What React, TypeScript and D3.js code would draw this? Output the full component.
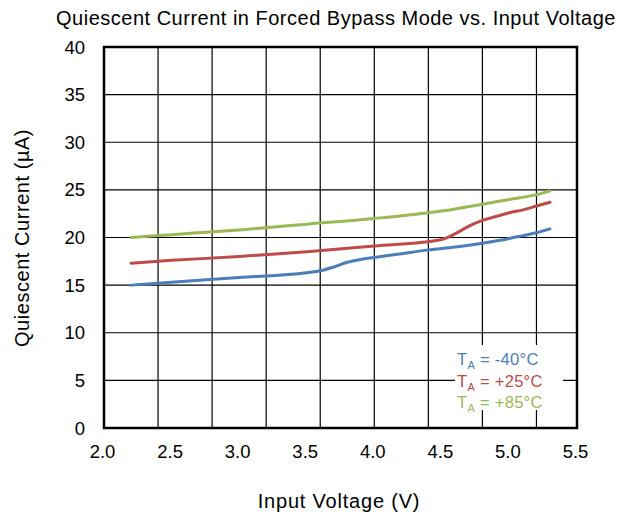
import React from "react";
import * as d3 from "d3";

// Input voltage (V) sample points per temperature
const voltsCold = [2.2, 2.5, 3.0, 3.5, 3.6, 3.7, 3.8, 3.9, 4.0, 4.2, 4.4, 4.6, 4.8, 5.0, 5.1, 5.2, 5.3];
const currentCold = [15.0, 15.3, 15.8, 16.3, 16.5, 16.9, 17.4, 17.7, 17.9, 18.3, 18.7, 19.0, 19.4, 19.9, 20.2, 20.5, 20.9];

const voltsRoom = [2.2, 2.5, 3.0, 3.5, 4.0, 4.5, 4.6, 4.7, 4.8, 4.9, 5.0, 5.1, 5.2, 5.3];
const currentRoom = [17.3, 17.6, 18.0, 18.5, 19.1, 19.8, 20.4, 21.2, 21.8, 22.2, 22.6, 22.9, 23.3, 23.7];

const voltsHot = [2.2, 2.5, 3.0, 3.5, 4.0, 4.4, 4.6, 4.8, 5.0, 5.2, 5.3];
const currentHot = [20.0, 20.3, 20.8, 21.4, 22.0, 22.6, 23.0, 23.5, 24.0, 24.5, 24.9];

const xTicks = [2.0, 2.5, 3.0, 3.5, 4.0, 4.5, 5.0, 5.5];
const xGrid = [2.4, 2.8, 3.2, 3.6, 4.0, 4.4, 4.8, 5.2];
const yTicks = [0, 5, 10, 15, 20, 25, 30, 35, 40];

const seriesNames = ["-40°C", "+25°C", "+85°C"];
const seriesColors = ["#4A7EBB", "#BE4B48", "#98B954"];

const W = 621;
const H = 512;
const FONT = "'Liberation Sans', Arial, sans-serif";

export default function App() {
  const x = d3.scaleLinear().domain([2.0, 5.5]).range([104, 577]);
  const y = d3.scaleLinear().domain([0, 40]).range([428, 47]);

  const series = [
    { v: voltsCold, c: currentCold },
    { v: voltsRoom, c: currentRoom },
    { v: voltsHot, c: currentHot },
  ];

  const line = d3
    .line<[number, number]>()
    .x((d) => x(d[0]))
    .y((d) => y(d[1]))
    .curve(d3.curveMonotoneX);

  const legendX = 457;
  const legendY = 365;
  const legendStep = 21.5;

  return (
    <svg width={W} height={H} style={{ position: "absolute", left: 0, top: 0, background: "#fff" }} fontFamily={FONT}>
      <rect x={0} y={0} width={W} height={H} fill="#fff" />
      <text x={336} y={25} fontSize={20} letterSpacing={0.5} textAnchor="middle" fill="#000">
        Quiescent Current in Forced Bypass Mode vs. Input Voltage
      </text>

      {/* grid */}
      {yTicks.slice(1, -1).map((t) => (
        <line key={"gy" + t} x1={x(2.0)} x2={x(5.5)} y1={y(t)} y2={y(t)} stroke="#000" strokeWidth={1.2} />
      ))}
      {xGrid.map((t) => (
        <line key={"gx" + t} x1={x(t)} x2={x(t)} y1={y(0)} y2={y(40)} stroke="#000" strokeWidth={1.2} />
      ))}

      {/* data */}
      {series.map((s, i) => (
        <path
          key={"s" + i}
          d={line(s.v.map((v, j) => [v, s.c[j]] as [number, number])) || ""}
          fill="none"
          stroke={seriesColors[i]}
          strokeWidth={3}
          strokeLinejoin="round"
          strokeLinecap="round"
        />
      ))}

      {/* legend */}
      <rect x={455} y={345} width={108} height={65} fill="#fff" />
      {seriesNames.map((n, i) => (
        <text key={"lg" + i} x={legendX} y={legendY + i * legendStep} fontSize={16.5} letterSpacing={0.3} fill={seriesColors[i]}>
          T<tspan fontSize={11} dy={4}>A</tspan>
          <tspan dy={-4}>{" = " + n}</tspan>
        </text>
      ))}

      {/* frame */}
      <rect x={x(2.0)} y={y(40)} width={x(5.5) - x(2.0)} height={y(0) - y(40)} fill="none" stroke="#000" strokeWidth={2.5} />

      {/* tick labels */}
      {xTicks.map((t) => (
        <text key={"xt" + t} x={x(t) - 1.5} y={458} fontSize={18.5} textAnchor="middle" fill="#000">
          {t.toFixed(1)}
        </text>
      ))}
      {yTicks.map((t) => (
        <text key={"yt" + t} x={85} y={y(t) + 6.5} fontSize={18.5} textAnchor="end" fill="#000">
          {t}
        </text>
      ))}

      <text x={339} y={508} fontSize={20} letterSpacing={0.8} textAnchor="middle" fill="#000">
        Input Voltage (V)
      </text>
      <text
        transform={`translate(29, 238) rotate(-90)`}
        fontSize={20}
        letterSpacing={0.55}
        textAnchor="middle"
        fill="#000"
      >
        Quiescent Current (µA)
      </text>
    </svg>
  );
}
